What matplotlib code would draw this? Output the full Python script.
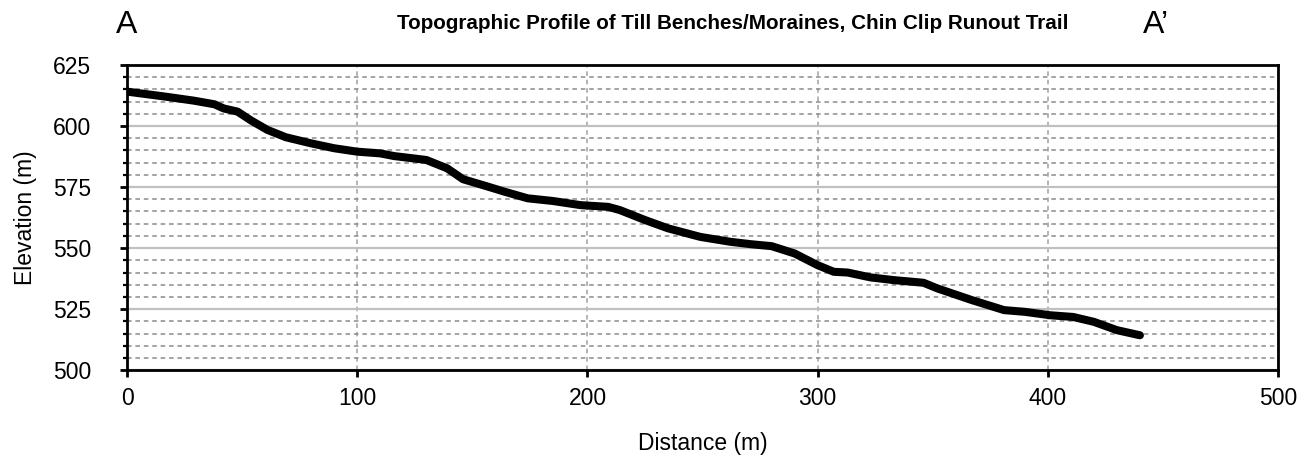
import matplotlib
matplotlib.use("Agg")
import matplotlib.pyplot as plt
from matplotlib.ticker import MultipleLocator

plt.rcParams['font.family'] = ['Liberation Sans', 'DejaVu Sans']

# profile
distance = [0, 17, 29, 38, 42, 48, 54, 61, 69, 80, 90, 100, 110, 116, 130, 139,
            146, 156, 164, 174, 185, 197, 209, 214, 225, 235, 249, 262, 271, 280,
            290, 300, 307, 313, 323, 333, 346, 352, 367, 381, 390, 401, 411, 420,
            430, 440]
elevation = [614.1, 612.0, 610.4, 608.9, 607.2, 605.9, 602.2, 598.4, 595.4, 592.9,
             590.9, 589.5, 588.8, 587.7, 586.1, 582.7, 578.2, 575.4, 573.1, 570.4,
             569.3, 567.6, 566.9, 565.6, 561.5, 558.1, 554.6, 552.6, 551.6, 550.8,
             547.8, 543.0, 540.3, 540.0, 538.0, 536.9, 535.8, 533.5, 528.7, 524.6,
             523.9, 522.5, 521.8, 519.8, 516.4, 514.3]

title = "Topographic Profile of Till Benches/Moraines, Chin Clip Runout Trail"

fig = plt.figure(figsize=(13.1, 4.61), dpi=100)
ax = fig.add_axes([0.097, 0.197, 0.8786, 0.662])

ax.set_xlim(0, 500)
ax.set_ylim(500, 625)
ax.xaxis.set_major_locator(MultipleLocator(100))
ax.yaxis.set_major_locator(MultipleLocator(25))
ax.yaxis.set_minor_locator(MultipleLocator(5))

# grid
ax.grid(axis='y', which='major', color='#c0c0c0', lw=1.6, ls='-')
ax.grid(axis='y', which='minor', color='#8c8c8c', lw=1.1, ls=(0, (3, 2.5)))
ax.grid(axis='x', which='major', color='#a0a0a0', lw=1.1, ls=(0, (3, 2.5)))
ax.set_axisbelow(True)

ax.plot(distance, elevation, color='black', lw=5.8, solid_capstyle='round',
        solid_joinstyle='round', zorder=3)

for s in ax.spines.values():
    s.set_linewidth(2)
ax.tick_params(axis='both', which='major', labelsize=16.5, width=2, length=5, direction='out')
ax.tick_params(axis='y', which='minor', width=1.6, length=3, direction='out')
ax.tick_params(axis='x', pad=7)
ax.tick_params(axis='y', pad=21)

ax.set_xlabel("Distance (m)", fontsize=16.5, labelpad=16)
ax.set_ylabel("Elevation (m)", fontsize=16.5, labelpad=11)

fig.text(0.559, 0.937, title, ha='center', va='baseline', fontsize=14.9, fontweight='bold')
fig.text(0.0966, 0.928, "A", ha='center', va='baseline', fontsize=23)
fig.text(0.8725, 0.928, "A\u2019", ha='left', va='baseline', fontsize=23)

fig.savefig("out.png", dpi=100)
